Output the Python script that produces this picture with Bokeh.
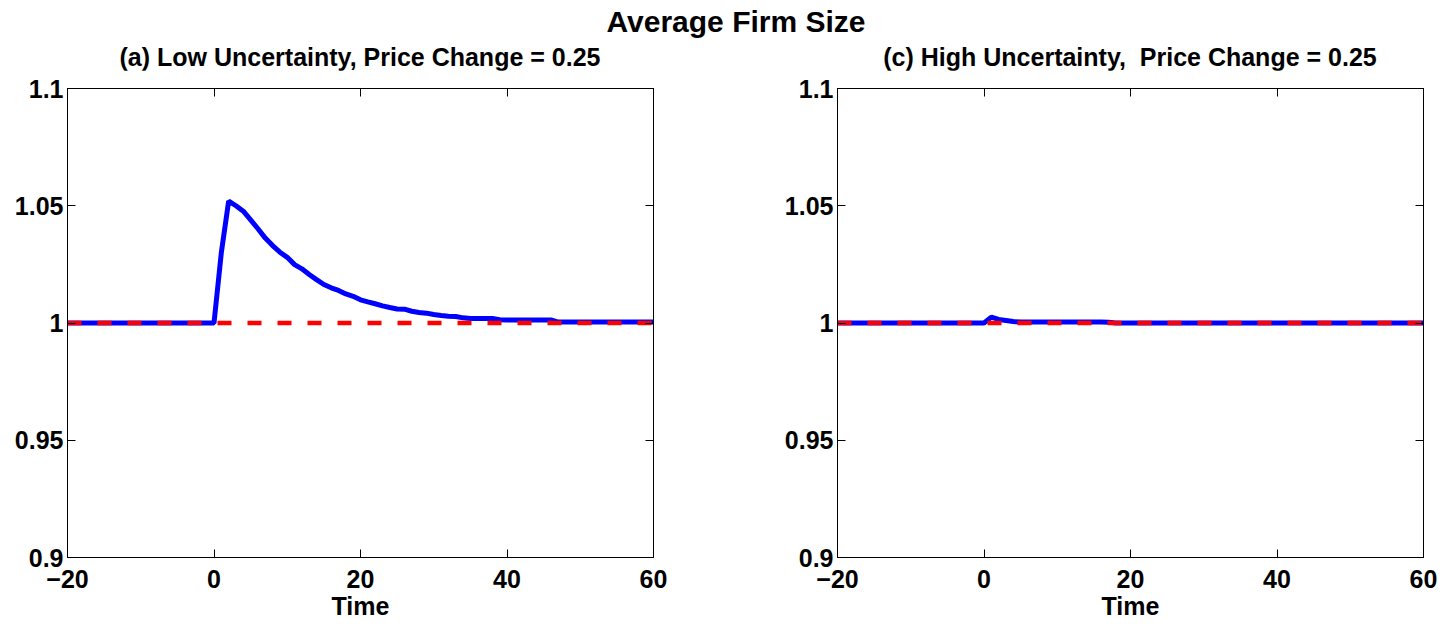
from bokeh.plotting import figure
from bokeh.models import FixedTicker, LinearAxis, CustomJSTickFormatter, Div, Range1d
from bokeh.layouts import column, row
from bokeh.embed import file_html
from bokeh.resources import INLINE

# ---------------- data ----------------
time = list(range(-20, 61))

# (a) Low uncertainty: average firm size (blue)
low_uncertainty = [
    1.0, 1.0, 1.0, 1.0, 1.0, 1.0, 1.0, 1.0, 1.0, 1.0,      # -20 .. -11
    1.0, 1.0, 1.0, 1.0, 1.0, 1.0, 1.0, 1.0, 1.0, 1.0,      # -10 .. -1
    1.0,                                                   # 0
    1.0300, 1.0520, 1.0500, 1.0477, 1.0440, 1.0402, 1.0362, 1.0330, 1.0302, 1.0280,  # 1..10
    1.0249, 1.0231, 1.0207, 1.0185, 1.0164, 1.0150, 1.0139, 1.0124, 1.0114, 1.0099,  # 11..20
    1.0090, 1.0082, 1.0073, 1.0066, 1.0060, 1.0059, 1.0050, 1.0045, 1.0042, 1.0036,  # 21..30
    1.0032, 1.0029, 1.0028, 1.0022, 1.0019, 1.0019, 1.0019, 1.0019, 1.0014, 1.0013,  # 31..40
    1.0013, 1.0013, 1.0013, 1.0013, 1.0013, 1.0013, 1.0004, 1.0004, 1.0004, 1.0004,  # 41..50
    1.0004, 1.0004, 1.0004, 1.0004, 1.0004, 1.0004, 1.0004, 1.0004, 1.0004, 1.0004,  # 51..60
]

# (c) High uncertainty: average firm size (blue)
high_uncertainty = [
    1.0, 1.0, 1.0, 1.0, 1.0, 1.0, 1.0, 1.0, 1.0, 1.0,      # -20 .. -11
    1.0, 1.0, 1.0, 1.0, 1.0, 1.0, 1.0, 1.0, 1.0, 1.0,      # -10 .. -1
    1.0,                                                   # 0
    1.0025, 1.0015, 1.0011, 1.0006, 1.0004, 1.0004, 1.0004, 1.0004, 1.0004, 1.0004,  # 1..10
    1.0004, 1.0004, 1.0004, 1.0004, 1.0004, 1.0004, 1.0003, 1.0, 1.0, 1.0,           # 11..20
    1.0, 1.0, 1.0, 1.0, 1.0, 1.0, 1.0, 1.0, 1.0, 1.0,      # 21..30
    1.0, 1.0, 1.0, 1.0, 1.0, 1.0, 1.0, 1.0, 1.0, 1.0,      # 31..40
    1.0, 1.0, 1.0, 1.0, 1.0, 1.0, 1.0, 1.0, 1.0, 1.0,      # 41..50
    1.0, 1.0, 1.0, 1.0, 1.0, 1.0, 1.0, 1.0, 1.0, 1.0,      # 51..60
]

# steady-state reference (red dashed)
baseline_time = [-20, 60]
baseline = [1.0, 1.0]

x_ticks = [-20, 0, 20, 40, 60]
y_ticks = [0.9, 0.95, 1.0, 1.05, 1.1]

main_title = "Average Firm Size"
titles = ["(a) Low Uncertainty, Price Change = 0.25",
          "(c) High Uncertainty,  Price Change = 0.25"]
x_label = "Time"

FONT = "Liberation Sans"
FIG_H = 556


def make_panel(series, width, b_left, b_right):
    p = figure(width=width, height=FIG_H,
               x_range=Range1d(-20, 60), y_range=Range1d(0.9, 1.1),
               output_backend="svg", toolbar_location=None,
               min_border_left=b_left, min_border_right=b_right,
               min_border_top=18, min_border_bottom=69)
    p.background_fill_color = "white"
    p.border_fill_color = "white"
    p.outline_line_color = "black"
    p.outline_line_width = 1
    p.xgrid.visible = False
    p.ygrid.visible = False

    xa = p.xaxis[0]
    xa.ticker = FixedTicker(ticks=x_ticks)
    xa.formatter = CustomJSTickFormatter(
        code="return tick < 0 ? '\u2212' + Math.abs(tick) : String(tick);")
    xa.axis_label = x_label
    ya = p.yaxis[0]
    ya.ticker = FixedTicker(ticks=y_ticks)
    ya.formatter = CustomJSTickFormatter(code="return String(+tick.toFixed(2));")
    for ax in (xa, ya):
        ax.major_tick_in = 8
        ax.major_tick_out = 0
        ax.minor_tick_line_color = None
        ax.axis_line_color = "black"
        ax.major_tick_line_color = "black"
        ax.major_label_text_font = FONT
        ax.major_label_text_font_size = "25px"
        ax.major_label_text_font_style = "bold"
        ax.major_label_text_color = "black"
        ax.axis_label_text_font = FONT
        ax.axis_label_text_font_size = "25px"
        ax.axis_label_text_font_style = "bold"
        ax.axis_label_text_color = "black"
    xa.major_label_standoff = 12
    xa.axis_label_standoff = 1
    ya.major_label_standoff = 4

    # inward ticks on top and right edges (box style)
    for side, ticks in (("above", x_ticks), ("right", y_ticks)):
        ax = LinearAxis(ticker=FixedTicker(ticks=ticks),
                        formatter=CustomJSTickFormatter(code="return '';"),
                        major_tick_in=8, major_tick_out=0,
                        minor_tick_line_color=None,
                        major_label_standoff=0,
                        major_label_text_font_size="1px",
                        axis_line_color="black", major_tick_line_color="black")
        p.add_layout(ax, side)

    p.line(time, series, line_color="#0000FF", line_width=5)
    p.line(baseline_time, baseline, line_color="#FF0000", line_width=4.5,
           line_dash="14 16")
    return p


def text_div(text, width, height, pad_left, inner_width, size, line_h):
    html = ("<div style=\"box-sizing:content-box;width:%dpx;padding-left:%dpx;"
            "text-align:center;font-family:'Liberation Sans';white-space:pre;"
            "font-weight:bold;font-size:%dpx;line-height:%dpx;color:black;\">%s</div>"
            % (inner_width, pad_left, size, line_h, text))
    return Div(text=html, width=width, height=height, margin=(0, 0, 0, 0))


p1 = make_panel(low_uncertainty, 745, 67, 92)
p2 = make_panel(high_uncertainty, 695, 92, 17)

head = text_div(main_title, 1440, 44, 32, 1408, 30, 44)
sub1 = text_div(titles[0], 745, 26, 67, 586, 25, 26)
sub2 = text_div(titles[1], 695, 26, 92, 586, 25, 26)

layout = column(head, row(sub1, sub2, spacing=0), row(p1, p2, spacing=0), spacing=0)

with open("out.html", "w") as f:
    f.write(file_html(layout, INLINE))
